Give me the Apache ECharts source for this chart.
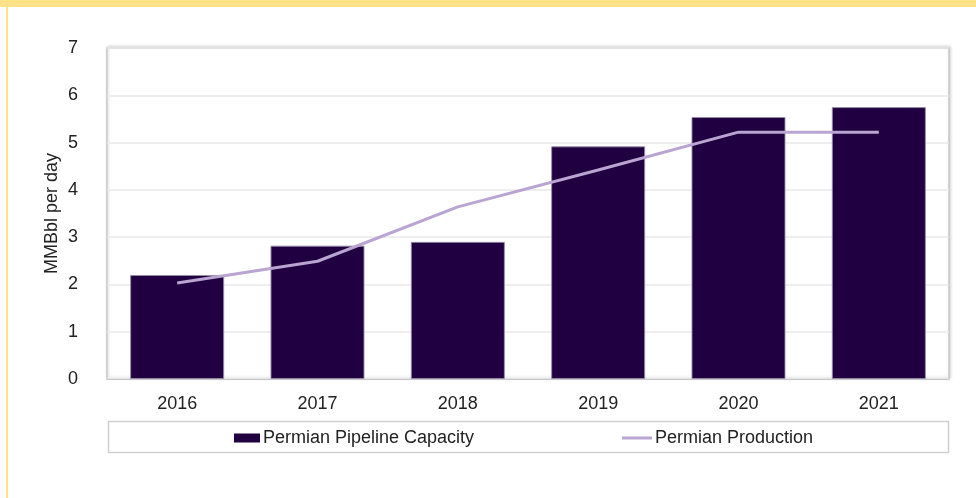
<!DOCTYPE html>
<html>
<head>
<meta charset="utf-8">
<script src="https://cdn.jsdelivr.net/npm/echarts@6/dist/echarts.min.js"></script>
<style>
html,body{margin:0;padding:0;background:#fff;}
#c{width:976px;height:498px;}
</style>
</head>
<body>
<div id="c"></div>
<script>
const categories = ['2016', '2017', '2018', '2019', '2020', '2021'];
const pipelineCapacity = [2.2, 2.82, 2.9, 4.92, 5.54, 5.75];
const production = [2.03, 2.49, 3.64, 4.42, 5.22, 5.22];
const yTicks = [0, 1, 2, 3, 4, 5, 6, 7];
const seriesNames = ['Permian Pipeline Capacity', 'Permian Production'];
const yAxisTitle = 'MMBbl per day';

const FONT = 'Liberation Sans, Arial, sans-serif';
const FS = 18;
const chart = echarts.init(document.getElementById('c'), null, {renderer: 'canvas'});
chart.setOption({
  animation: false,
  backgroundColor: '#ffffff',
  textStyle: {fontFamily: FONT},
  graphic: [
    {type: 'rect', shape: {x: 0, y: 0, width: 976, height: 7}, style: {fill: '#ffe287'}, z: 10},
    {type: 'rect', shape: {x: 6, y: 7, width: 2, height: 491}, style: {fill: '#ffe287'}, z: 10},
    {type: 'rect', shape: {x: 108.5, y: 421.5, width: 840, height: 31}, style: {fill: '#fff', stroke: '#cfcfcf', lineWidth: 1.5}, z: 0}
  ],
  grid: {
    left: 107, right: 27, top: 48, bottom: 119,
    show: true, borderColor: '#c8c8c8', borderWidth: 1.5,
    backgroundColor: '#fff',
    shadowColor: 'rgba(0,0,0,0.15)', shadowBlur: 3, shadowOffsetX: 1, shadowOffsetY: -1
  },
  legend: [
    {
      data: [seriesNames[0]], left: 234, top: 429, padding: 0, itemWidth: 26, itemHeight: 9,
      icon: 'rect', itemStyle: {borderWidth: 0},
      textStyle: {fontSize: FS, color: '#222', fontFamily: FONT, padding: [0, 0, 0, -2]}
    },
    {
      data: [seriesNames[1]], left: 622, top: 429, padding: 0, itemWidth: 30, itemHeight: 3,
      icon: 'rect', itemStyle: {borderWidth: 0},
      textStyle: {fontSize: FS, color: '#222', fontFamily: FONT, padding: [0, 0, 0, -2]}
    }
  ],
  xAxis: {
    type: 'category', data: categories,
    axisLine: {show: true, lineStyle: {color: '#c8c8c8', width: 1}},
    axisTick: {show: false},
    axisLabel: {color: '#222', fontSize: FS, margin: 16, fontFamily: FONT}
  },
  yAxis: {
    type: 'value', min: 0, max: 7, interval: 1,
    name: yAxisTitle, nameLocation: 'middle', nameGap: 46, nameRotate: 90,
    nameMoveOverlap: false,
    nameTextStyle: {color: '#222', fontSize: FS, fontFamily: FONT},
    axisLine: {show: false}, axisTick: {show: false},
    axisLabel: {color: '#222', fontSize: FS, margin: 29, fontFamily: FONT,
      formatter: v => yTicks.includes(v) ? String(v) : ''},
    splitLine: {lineStyle: {color: '#e8e8e8', width: 1.5}}
  },
  series: [
    {
      name: seriesNames[0], type: 'bar', data: pipelineCapacity,
      barCategoryGap: '33%',
      itemStyle: {color: '#200040', borderColor: 'rgba(150,140,165,0.9)', borderWidth: 1}
    },
    {
      name: seriesNames[1], type: 'line', data: production,
      showSymbol: false, symbol: 'none',
      lineStyle: {color: '#b9a4d2', width: 3},
      itemStyle: {color: '#b9a4d2'}
    }
  ]
});
</script>
</body>
</html>
